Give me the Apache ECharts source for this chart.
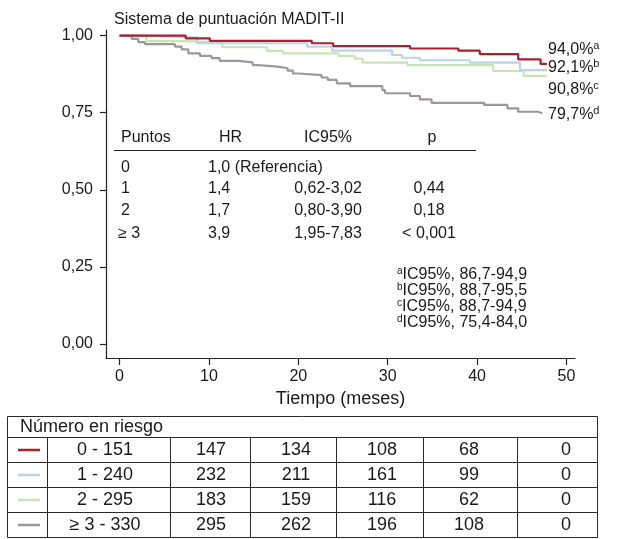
<!DOCTYPE html>
<html><head><meta charset="utf-8">
<script src="https://cdn.jsdelivr.net/npm/echarts@6/dist/echarts.min.js"></script>
<style>html,body{margin:0;padding:0;background:#fff}#c{width:622px;height:539px}</style>
</head><body><div id="c"></div>
<script>
// ---- data ----
const groupNames = ['0 - 151', '1 - 240', '2 - 295', '\u2265 3 - 330'];
const redT  = [0, 7.4, 10.1, 21.5, 23.9, 32.5, 37.9, 40.3, 44.6, 47.1, 47.8];
const redS  = [1, .991, .983, .975, .966, .958, .951, .940, .923, .908, .908];
const blueT = [0, 2.9, 8.7, 21, 23.8, 30.5, 31.6, 33.6, 39.2, 44.8, 47.8];
const blueS = [1, .994, .975, .964, .951, .937, .928, .920, .912, .888, .888];
const greenT = [0, 3.0, 7.5, 11.5, 16.5, 18.3, 24.5, 26.3, 27.2, 32.2, 41.8, 45.2, 47.8];
const greenS = [1, .982, .978, .962, .950, .942, .934, .925, .912, .904, .885, .869, .869];
const grayT = [0, 1.36, 2.1, 2.85, 6.2, 6.96, 7.7, 9.0, 10.3, 11.2, 13.3, 14.9, 15.5, 17.7, 18.8, 19.4, 20.0, 22.6, 23.3, 24.3, 25.8, 29.4, 29.7, 32.5, 33.6, 34.9, 40.8, 43.4, 44.6, 46.8, 47.3];
const grayS = [1, .989, .979, .972, .964, .955, .942, .934, .927, .918, .913, .904, .899, .894, .886, .877, .872, .864, .856, .845, .836, .823, .813, .804, .793, .782, .775, .764, .753, .748, .748];
const xTicks = [0, 10, 20, 30, 40, 50];
const yTicks = [0, 0.25, 0.5, 0.75, 1];
const endLabels = ['94,0%', '92,1%', '90,8%', '79,7%'];
const endSup = ['a', 'b', 'c', 'd'];
const hrHeader = ['Puntos', 'HR', 'IC95%', 'p'];
const hrPuntos = ['0', '1', '2', '\u2265 3'];
const hrValues = ['1,0 (Referencia)', '1,4', '1,7', '3,9'];
const hrCI = ['', '0,62-3,02', '0,80-3,90', '1,95-7,83'];
const hrP = ['', '0,44', '0,18', '< 0,001'];
const ciNotes = ['IC95%, 86,7-94,9', 'IC95%, 88,7-95,5', 'IC95%, 88,7-94,9', 'IC95%, 75,4-84,0'];
const riskTitle = 'N\u00famero en riesgo';
const riskCounts = [
  [147, 134, 108, 68, 0],
  [232, 211, 161, 99, 0],
  [183, 159, 116, 62, 0],
  [295, 262, 196, 108, 0]
];
// ---- style ----
const colors = ['#ab1f2f', '#b9d3e9', '#c9e4b4', '#9c9896'];
const FF = '"Liberation Sans", Arial, Helvetica, sans-serif';
const TXT = '#1a1a1a';

const chart = echarts.init(document.getElementById('c'), null, {renderer: 'canvas'});
const seriesData = [[redT, redS], [blueT, blueS], [greenT, greenS], [grayT, grayS]];
const order = [3, 2, 1, 0];
const series = order.map(i => ({
  type: 'line', step: 'end', symbol: 'none', silent: true,
  data: seriesData[i][0].map((t, k) => [t, seriesData[i][1][k]]),
  lineStyle: {color: colors[i], width: 2.2},
  z: 2
}));

const g = [];
const txt = (x, y, text, size, align) => ({type: 'text', x: x, y: y, style: {text: text, font: size + 'px ' + FF, fill: TXT, align: align || 'left', verticalAlign: 'middle'}});
// title
g.push(txt(114, 20, 'Sistema de puntuaci\u00f3n MADIT-II', 16));
// end labels
const endY = [50, 68, 90, 115];
endLabels.forEach((t, i) => {
  g.push({type: 'text', x: 548, y: endY[i], style: {
    text: '{m|' + t + '}{s|' + endSup[i] + '}', verticalAlign: 'middle',
    rich: {m: {font: '16px ' + FF, fill: TXT}, s: {font: '11px ' + FF, fill: TXT, verticalAlign: 'top', padding: [0, 0, 8, 0]}}
  }});
});
// HR table
g.push(txt(121, 138, hrHeader[0], 16));
g.push(txt(219, 138, hrHeader[1], 16));
g.push(txt(328, 138, hrHeader[2], 16, 'center'));
g.push(txt(432, 138, hrHeader[3], 16, 'center'));
g.push({type: 'line', shape: {x1: 114, y1: 150.5, x2: 476, y2: 150.5}, style: {stroke: '#222', lineWidth: 1}});
const hrRowY = [168, 189, 211, 234];
hrPuntos.forEach((p, r) => {
  g.push(txt(r === 3 ? 118 : 121, hrRowY[r], p, 16));
  g.push(txt(208, hrRowY[r], hrValues[r], 16));
  if (hrCI[r]) g.push(txt(328, hrRowY[r], hrCI[r], 16, 'center'));
  if (hrP[r]) g.push(txt(429, hrRowY[r], hrP[r], 16, 'center'));
});
// CI notes
const noteY = [275, 291, 307, 323];
ciNotes.forEach((t, i) => {
  g.push({type: 'text', x: 397, y: noteY[i], style: {
    text: '{s|' + endSup[i] + '}{m|' + t + '}', verticalAlign: 'middle',
    rich: {m: {font: '16px ' + FF, fill: TXT}, s: {font: '10px ' + FF, fill: TXT, verticalAlign: 'top', padding: [0, 0, 7, 0]}}
  }});
});
// Risk table
const tL = 7, tR = 597, tTop = 416, hdrB = 437, rowH = 25;
const colB = [47, 170, 250, 336, 423, 517];
const numX = [211, 296, 382, 469, 566];
const ls = {stroke: '#2a2a2a', lineWidth: 1, fill: null};
g.push({type: 'rect', shape: {x: tL + 0.5, y: tTop + 0.5, width: tR - tL, height: hdrB - tTop + rowH * 4}, style: ls});
g.push(txt(20, 427, riskTitle, 18));
for (let r = 0; r <= 3; r++) {
  const y0 = hdrB + r * rowH;
  g.push({type: 'line', shape: {x1: tL, y1: y0 + 0.5, x2: tR, y2: y0 + 0.5}, style: ls});
  colB.forEach(x => g.push({type: 'line', shape: {x1: x + 0.5, y1: y0, x2: x + 0.5, y2: y0 + rowH}, style: ls}));
  const yc = y0 + rowH / 2 + 0.5;
  g.push({type: 'line', shape: {x1: 18, y1: yc, x2: 40, y2: yc}, style: {stroke: colors[r], lineWidth: 2.5}});
  g.push(txt(105, yc, groupNames[r], 18, 'center'));
  riskCounts[r].forEach((v, j) => g.push(txt(numX[j], yc, String(v), 18, 'center')));
}

chart.setOption({
  animation: false,
  backgroundColor: '#fff',
  grid: {left: 106, right: 47, top: 30, bottom: 181, containLabel: false},
  xAxis: {
    type: 'value', min: -1.51, max: 50.95,
    splitLine: {show: false},
    axisLine: {show: true, onZero: false, lineStyle: {color: '#222', width: 1.2}},
    axisTick: {show: true, length: 7, lineStyle: {color: '#222', width: 1.2}, customValues: xTicks},
    axisLabel: {show: true, customValues: xTicks, margin: 11, fontSize: 16, fontFamily: FF, color: TXT},
    name: 'Tiempo (meses)', nameLocation: 'middle', nameGap: 29,
    nameTextStyle: {fontSize: 18, fontFamily: FF, color: TXT}
  },
  yAxis: {
    type: 'value', min: -0.0454, max: 1.018,
    splitLine: {show: false},
    axisLine: {show: true, onZero: false, lineStyle: {color: '#222', width: 1.2}},
    axisTick: {show: true, length: 6, lineStyle: {color: '#222', width: 1.2}, customValues: yTicks},
    axisLabel: {show: true, customValues: yTicks, margin: 13, fontSize: 16, fontFamily: FF, color: TXT,
      formatter: v => v.toFixed(2).replace('.', ',')}
  },
  series: series,
  graphic: g
});
</script>
</body></html>
